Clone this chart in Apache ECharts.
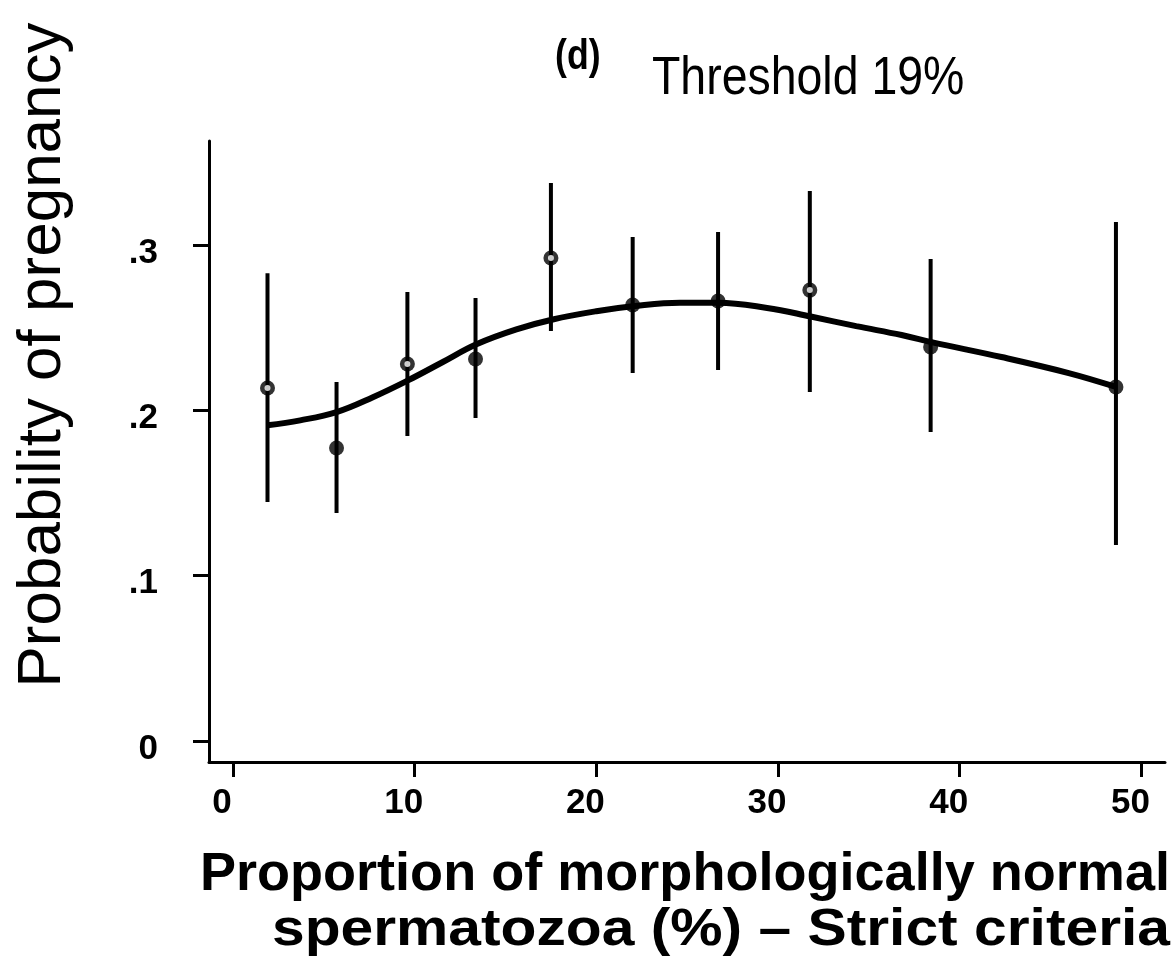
<!DOCTYPE html>
<html>
<head>
<meta charset="utf-8">
<script src="https://cdn.jsdelivr.net/npm/echarts@6/dist/echarts.min.js"></script>
<style>
  html, body { margin: 0; padding: 0; background: #fff; }
  #chart { width: 1174px; height: 978px; }
</style>
</head>
<body>
<div id="chart"></div>
<script>
// 刻度
var xTicks = [0, 10, 20, 30, 40, 50];
var yTicks = [0, 0.1, 0.2, 0.3];
var yTickLabels = ['0', '.1', '.2', '.3'];

// 各组观测值 + 置信区间
var groupX = [1.9, 5.7, 9.6, 13.35, 17.5, 22.0, 26.7, 31.75, 38.4, 48.6];
var groupP = [0.2136, 0.1773, 0.2281, 0.2311, 0.2922, 0.2638, 0.2662, 0.2728, 0.2384, 0.2142];
var ciLow  = [0.1446, 0.1379, 0.1845, 0.1954, 0.2480, 0.2226, 0.2244, 0.2111, 0.1869, 0.1186];
var ciHigh = [0.2830, 0.2172, 0.2716, 0.2680, 0.3376, 0.3049, 0.3079, 0.3327, 0.2916, 0.3140];

// 拟合曲线
var fitX = [1.9, 3.7, 5.7, 7.7, 9.6, 11.5, 13.4, 15.6, 17.6, 20.0, 22.0, 24.6, 26.7, 29.4, 31.8, 34.3, 36.8, 38.5, 42.3, 46.0, 48.6];
var fitY = [0.191, 0.194, 0.199, 0.208, 0.218, 0.229, 0.240, 0.249, 0.255, 0.260, 0.263, 0.2652, 0.2652, 0.262, 0.2568, 0.251, 0.2456, 0.2412, 0.2323, 0.2226, 0.2142];

// 空心点的序号
var openMarkers = [0, 2, 4, 7];

var fitData = fitX.map(function (x, i) { return [x, fitY[i]]; });
var pointData = groupX.map(function (x, i) { return [x, groupP[i]]; });
var ciData = groupX.map(function (x, i) { return [x, ciLow[i], ciHigh[i]]; });
var openData = openMarkers.map(function (i) { return [groupX[i], groupP[i]]; });

var chart = echarts.init(document.getElementById('chart'));
var option = {
    animation: false,
    backgroundColor: '#fff',
    graphic: [
        {
            type: 'text',
            x: 555, y: 36,
            scaleX: 0.85,
            style: {
                text: '(d)',
                fontFamily: 'Liberation Sans',
                fontWeight: 'bold',
                fontSize: 42,
                fill: '#000'
            }
        },
        {
            type: 'text',
            x: 652, y: 52,
            scaleX: 0.86,
            style: {
                text: 'Threshold 19%',
                fontFamily: 'Liberation Sans',
                fontSize: 54,
                fill: '#000'
            }
        },
        {
            type: 'text',
            x: 43, y: 355,
            rotation: Math.PI / 2,
            style: {
                text: 'Probability of pregnancy',
                fontFamily: 'Liberation Sans',
                fontSize: 62,
                fill: '#000',
                align: 'center',
                verticalAlign: 'middle'
            }
        },
        {
            type: 'text',
            x: 1170, y: 849,
            scaleX: 1.02,
            style: {
                text: 'Proportion of morphologically normal',
                fontFamily: 'Liberation Sans',
                fontWeight: 'bold',
                fontSize: 53,
                fill: '#000',
                align: 'right',
                verticalAlign: 'top'
            }
        },
        {
            type: 'text',
            x: 1170, y: 905,
            scaleX: 1.13,
            style: {
                text: 'spermatozoa (%) \u2013 Strict criteria',
                fontFamily: 'Liberation Sans',
                fontWeight: 'bold',
                fontSize: 52,
                fill: '#000',
                align: 'right',
                verticalAlign: 'top'
            }
        }
    ],
    grid: { left: 209, right: 9, top: 141, bottom: 216 },
    xAxis: {
        type: 'value',
        min: -1.32,
        max: 51.3,
        splitLine: { show: false },
        axisLine: { onZero: false, lineStyle: { color: '#000', width: 3 } },
        axisTick: { show: true, customValues: xTicks, length: 15, lineStyle: { color: '#000', width: 3 } },
        axisLabel: {
            customValues: xTicks,
            margin: 24,
            padding: [0, 22, 0, 0],
            fontFamily: 'Liberation Sans',
            fontWeight: 'bold',
            fontSize: 35,
            color: '#000'
        }
    },
    yAxis: {
        type: 'value',
        min: -0.0127,
        max: 0.363,
        splitLine: { show: false },
        axisLine: { onZero: false, lineStyle: { color: '#000', width: 3 } },
        axisTick: { show: true, customValues: yTicks, length: 16, lineStyle: { color: '#000', width: 3 } },
        axisLabel: {
            customValues: yTicks,
            margin: 51,
            verticalAlign: 'top',
            lineHeight: 16,
            fontFamily: 'Liberation Sans',
            fontWeight: 'bold',
            fontSize: 35,
            color: '#000',
            formatter: function (v) {
                var best = 0;
                for (var i = 1; i < yTicks.length; i++) {
                    if (Math.abs(yTicks[i] - v) < Math.abs(yTicks[best] - v)) best = i;
                }
                return yTickLabels[best];
            }
        }
    },
    series: [
        {
            type: 'custom',
            name: 'ci',
            data: ciData,
            encode: { x: 0, y: [1, 2] },
            renderItem: function (params, api) {
                var x = api.value(0);
                var lo = api.coord([x, api.value(1)]);
                var hi = api.coord([x, api.value(2)]);
                return {
                    type: 'line',
                    shape: { x1: lo[0], y1: lo[1], x2: hi[0], y2: hi[1] },
                    style: { stroke: '#000', lineWidth: 4 }
                };
            },
            z: 2
        },
        {
            type: 'line',
            name: 'fit',
            data: fitData,
            smooth: 0.4,
            showSymbol: false,
            lineStyle: { color: '#000', width: 6 },
            z: 3
        },
        {
            type: 'scatter',
            name: 'points',
            data: pointData,
            symbol: 'circle',
            symbolSize: 15,
            itemStyle: { color: '#000' },
            z: 4
        },
        {
            type: 'scatter',
            name: 'open',
            data: openData,
            symbol: 'circle',
            symbolSize: 6,
            itemStyle: { color: '#fff' },
            z: 5
        }
    ]
};
chart.setOption(option);
</script>
</body>
</html>
